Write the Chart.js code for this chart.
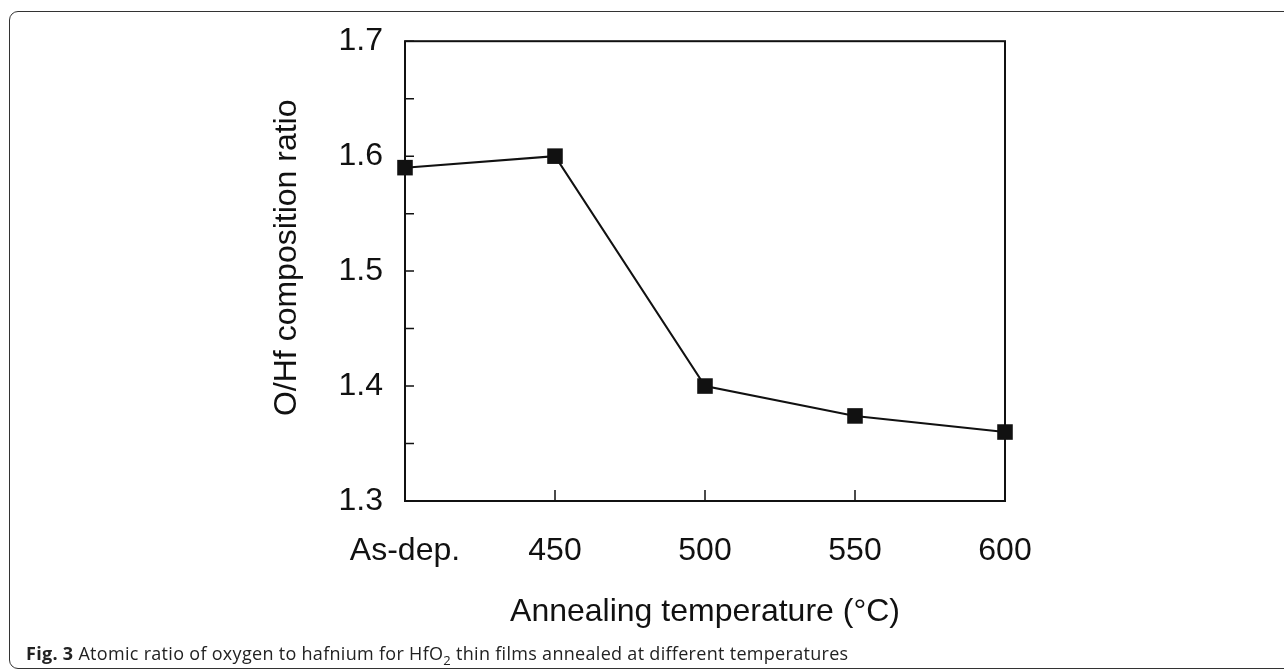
<!DOCTYPE html>
<html>
<head>
<meta charset="utf-8">
<script src="https://cdn.jsdelivr.net/npm/chart.js@4"></script>
<style>
    body { margin: 0; background: #fff; }
    #wrap { position: relative; width: 1284px; height: 672px; overflow: hidden; }
    #frame {
        position: absolute; left: 9px; top: 11px; width: 1300px; height: 656px;
        border: 1.5px solid #333; border-radius: 9px;
    }
    #myChart { position: absolute; left: 0; top: 0; }
    #caption {
        position: absolute; left: 26px; top: 641px; line-height: 24px;
        font-family: "Open Sans", "Noto Sans", sans-serif; font-size: 18px; color: #222;
        letter-spacing: 0.3px; white-space: nowrap;
    }
    #caption b { font-weight: 700; }
</style>
</head>
<body>
<div id="wrap">
    <div id="frame"></div>
    <canvas id="myChart" width="1284" height="672"></canvas>
    <div id="caption"><b>Fig. 3</b> Atomic ratio of oxygen to hafnium for HfO<sub style="font-size:13px;line-height:0">2</sub> thin films annealed at different temperatures</div>
</div>
<script>
const temps = ["As-dep.", "450", "500", "550", "600"];
const ratios = [1.59, 1.60, 1.40, 1.374, 1.36];
const yRange = [1.3, 1.7];

// inward ticks and the closed plot box
const innerTicks = {
    id: "innerTicks",
    beforeDatasetsDraw(chart) {
        const { ctx, chartArea: a, scales } = chart;
        ctx.save();
        ctx.strokeStyle = "#111";
        ctx.lineWidth = 2;
        ctx.strokeRect(a.left, a.top, a.right - a.left, a.bottom - a.top);
        ctx.lineWidth = 1.5;
        ctx.beginPath();
        scales.y.ticks.forEach(t => {
            const y = scales.y.getPixelForValue(t.value);
            ctx.moveTo(a.left, y);
            ctx.lineTo(a.left + 9, y);
        });
        temps.forEach((c, i) => {
            const x = scales.x.getPixelForValue(i);
            ctx.moveTo(x, a.bottom);
            ctx.lineTo(x, a.bottom - 11);
        });
        ctx.stroke();
        ctx.restore();
    }
};

window.onload = () => {
    const font = { family: "'Liberation Sans', Arial, sans-serif", size: 32 };

    const config = {
        type: "line",
        data: {
            labels: temps,
            datasets: [{
                data: ratios,
                borderColor: "#111",
                borderWidth: 2,
                pointStyle: "rect",
                pointRadius: 11,
                pointBackgroundColor: "#111",
                pointBorderWidth: 0,
                tension: 0,
                clip: false
            }]
        },
        options: {
            responsive: false,
            animation: false,
            devicePixelRatio: 1,
            layout: { padding: { left: 265, right: 279, top: 41, bottom: 37 } },
            plugins: {
                legend: { display: false },
                tooltip: { enabled: false }
            },
            scales: {
                x: {
                    offset: false,
                    grid: { display: false, drawTicks: false },
                    border: { display: false },
                    ticks: { color: "#111", font: font, padding: 31, maxRotation: 0 },
                    title: {
                        display: true,
                        text: "Annealing temperature (°C)",
                        color: "#111",
                        font: font,
                        padding: { top: 0, bottom: 4 }
                    },
                    afterFit: s => { s.height = 134; }
                },
                y: {
                    min: yRange[0],
                    max: yRange[1],
                    grid: { display: false, drawTicks: false },
                    border: { display: false },
                    ticks: {
                        stepSize: 0.05,
                        color: "#111",
                        font: font,
                        padding: 22,
                        callback: v => Math.round(v * 20) % 2 === 0 ? v.toFixed(1) : ""
                    },
                    title: {
                        display: true,
                        text: "   O/Hf composition ratio",
                        color: "#111",
                        font: font,
                        padding: { top: 3, bottom: 0 }
                    },
                    afterFit: s => { s.width = 140; }
                }
            }
        },
        plugins: [innerTicks]
    };

    const ctx = document.getElementById("myChart").getContext("2d");
    new Chart(ctx, config);
};
</script>
</body>
</html>
